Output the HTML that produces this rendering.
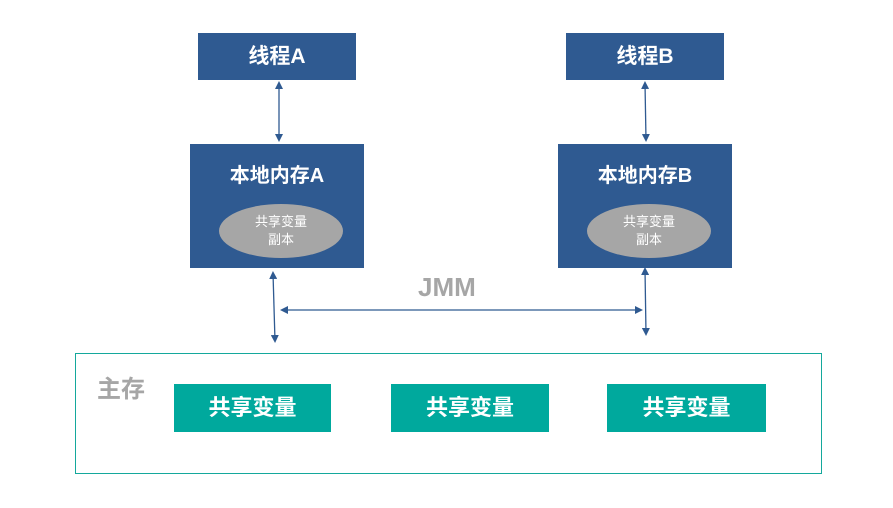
<!DOCTYPE html>
<html><head><meta charset="utf-8"><style>
body{margin:0;width:893px;height:508px;background:#fff;position:relative;overflow:hidden;font-family:"Liberation Sans","Noto Sans CJK SC",sans-serif}
.b{position:absolute;background:#2f5a91;color:#fff;font-weight:bold;text-align:center}
.t{position:absolute;background:#00a99d;color:#fff;font-weight:bold;font-size:22px;text-align:center;line-height:48px;height:48px;top:384px}
.e{position:absolute;background:#a6a6a6;border-radius:50%;color:#fff;font-size:13px;text-align:center;line-height:18px;box-sizing:border-box;padding-top:9px;width:124px;height:54px;top:204px}
</style></head><body>
<div class="b" style="left:198px;top:33px;width:158px;height:47px;line-height:47px;font-size:21px">线程A</div>
<div class="b" style="left:566px;top:33px;width:158px;height:47px;line-height:47px;font-size:21px">线程B</div>
<div class="b" style="left:190px;top:144px;width:174px;height:124px;font-size:20px"><div style="margin-top:15px">本地内存A</div></div>
<div class="b" style="left:558px;top:144px;width:174px;height:124px;font-size:20px"><div style="margin-top:15px">本地内存B</div></div>
<div class="e" style="left:219px">共享变量<br>副本</div>
<div class="e" style="left:587px">共享变量<br>副本</div>
<div style="position:absolute;left:75px;top:353px;width:745px;height:119px;border:1px solid #14a89c"></div>
<div style="position:absolute;left:97px;top:369px;font-size:24px;font-weight:bold;color:#a6a6a6">主存</div>
<div style="position:absolute;left:418px;top:272px;font-size:26px;font-weight:bold;color:#a6a6a6">JMM</div>
<div class="t" style="left:174px;width:157px">共享变量</div>
<div class="t" style="left:391px;width:158px">共享变量</div>
<div class="t" style="left:607px;width:159px">共享变量</div>
<svg width="893" height="508" style="position:absolute;left:0;top:0">
<defs><marker id="m" markerWidth="8" markerHeight="8" refX="6" refY="4" orient="auto-start-reverse" markerUnits="userSpaceOnUse"><path d="M0,0L8,4L0,8z" fill="#2f5a91"/></marker></defs>
<g stroke="#2f5a91" stroke-width="1.3" marker-start="url(#m)" marker-end="url(#m)">
<line x1="279" y1="83" x2="279" y2="140"/>
<line x1="645" y1="83" x2="646" y2="140"/>
<line x1="273" y1="273" x2="275" y2="341"/>
<line x1="645" y1="269" x2="646" y2="334"/>
<line x1="282" y1="310" x2="641" y2="310"/>
</g></svg>
</body></html>
